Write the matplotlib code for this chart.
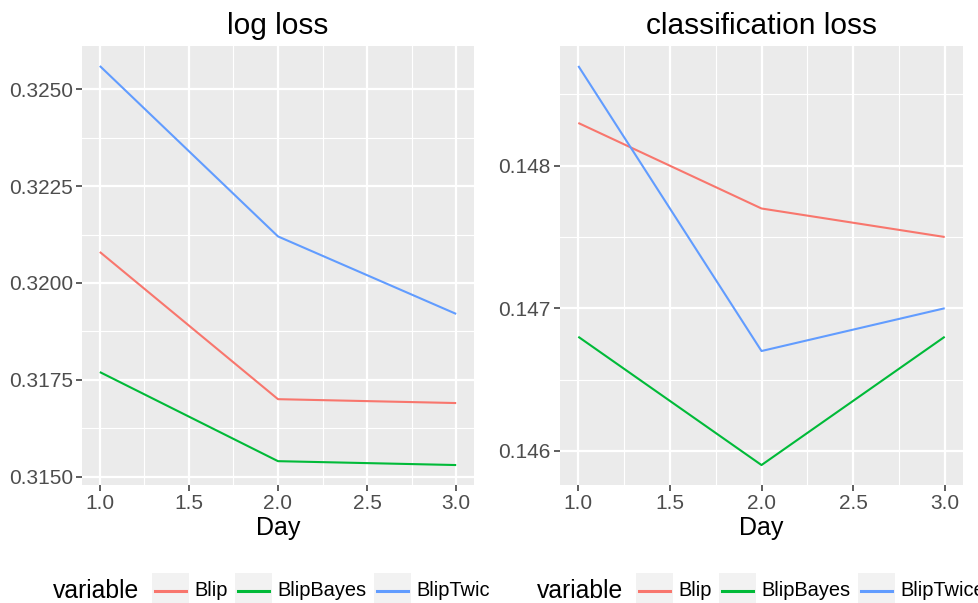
import matplotlib
matplotlib.use("Agg")
import matplotlib.pyplot as plt
from matplotlib.patches import Rectangle
from matplotlib.lines import Line2D
from matplotlib.transforms import Bbox
from matplotlib.ticker import FormatStrFormatter, MultipleLocator

plt.rcParams["font.family"] = ["Liberation Sans", "DejaVu Sans"]

days = [1, 2, 3]
series = ["Blip", "BlipBayes", "BlipTwice"]
colors = ["#F8766D", "#00BA38", "#619CFF"]

log_blip = [0.3208, 0.3170, 0.3169]
log_bayes = [0.3177, 0.3154, 0.3153]
log_twice = [0.3256, 0.3212, 0.3192]

cls_blip = [0.1483, 0.1477, 0.1475]
cls_bayes = [0.1468, 0.1459, 0.1468]
cls_twice = [0.1487, 0.1467, 0.1470]

W, H = 979, 603
fig = plt.figure(figsize=(W / 100, H / 100), dpi=100)


def px_axes(left, top, right, bottom):
    return fig.add_axes([left / W, 1 - bottom / H, (right - left) / W, (bottom - top) / H])


def style_panel(ax, title, values, ymajor, fmt):
    ax.set_facecolor("#EBEBEB")
    for s in ax.spines.values():
        s.set_visible(False)
    for vals, c in zip(values, colors):
        ax.plot(days, vals, color=c, lw=1.5, solid_capstyle="butt")
    lo = min(min(v) for v in values)
    hi = max(max(v) for v in values)
    pad = (hi - lo) * 0.05
    ax.set_ylim(lo - pad, hi + pad)
    ax.set_xlim(0.9, 3.1)
    ax.xaxis.set_major_locator(MultipleLocator(0.5))
    ax.xaxis.set_minor_locator(MultipleLocator(0.25))
    ax.yaxis.set_major_locator(MultipleLocator(ymajor))
    ax.yaxis.set_minor_locator(MultipleLocator(ymajor / 2))
    ax.xaxis.set_major_formatter(FormatStrFormatter("%.1f"))
    ax.yaxis.set_major_formatter(FormatStrFormatter(fmt))
    ax.grid(which="major", color="white", lw=1.6)
    ax.grid(which="minor", color="white", lw=0.8)
    ax.set_axisbelow(True)
    ax.tick_params(which="major", length=4, width=1.1, color="#333333",
                   labelcolor="#4D4D4D", labelsize=15, pad=2.5)
    ax.tick_params(which="minor", length=0)
    ax.set_xlabel("Day", fontsize=18, labelpad=2)
    ax.set_title(title, fontsize=21.5, pad=9)


ax1 = px_axes(82, 46, 474, 485)
style_panel(ax1, "log loss", [log_blip, log_bayes, log_twice], 0.0025, "%.4f")
ax2 = px_axes(560, 46, 963, 485)
style_panel(ax2, "classification loss", [cls_blip, cls_bayes, cls_twice], 0.001, "%.3f")


# bottom legends, clipped to each half of the figure as in the source
def draw_legend(x0, clip_left, clip_right):
    clip = Bbox([[clip_left, 0], [clip_right, H]])
    yc = H - 591
    t = fig.text(x0 / W, yc / H, "variable", fontsize=17.8, va="center", ha="left")
    t.set_clip_box(clip)
    t.set_clip_on(True)
    box_x = [x0 + 99, x0 + 182, x0 + 321]
    for bx, name, c in zip(box_x, series, colors):
        r = Rectangle((bx, yc - 18.5), 37, 37, transform=None, facecolor="#F2F2F2",
                      edgecolor="none")
        fig.add_artist(r)
        r.set_clip_box(clip)
        r.set_clip_on(True)
        ln = Line2D([bx + 3, bx + 34], [yc, yc], transform=None, color=c, lw=2.2)
        fig.add_artist(ln)
        ln.set_clip_box(clip)
        ln.set_clip_on(True)
        lt = fig.text((bx + 42) / W, yc / H, name, fontsize=14.4, va="center", ha="left")
        lt.set_clip_box(clip)
        lt.set_clip_on(True)


draw_legend(53, 0, 489.5)
draw_legend(537, 489.5, W)

fig.savefig("out.png", dpi=100)
